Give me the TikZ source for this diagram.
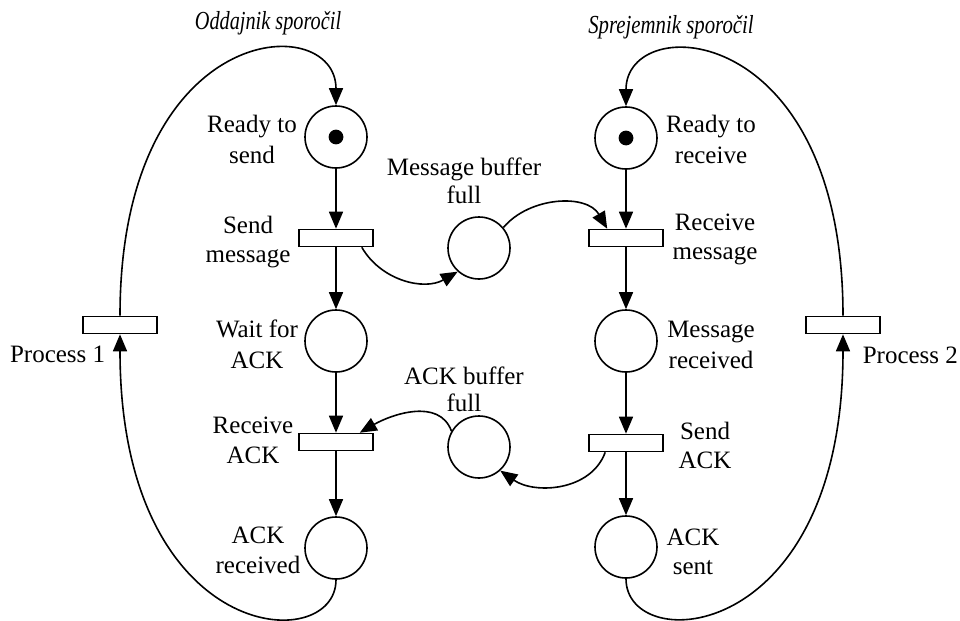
\documentclass[tikz,border=0pt]{standalone}
\usepackage{fontspec}
\usepackage{graphicx}
\setmainfont{Liberation Serif}
\usetikzlibrary{arrows.meta}
\begin{document}
\begin{tikzpicture}[x=0.5pt,y=-0.5pt,
  line width=0.8pt,
  place/.style={draw,circle,minimum size=31pt,inner sep=0pt},
  trans/.style={draw,rectangle,minimum width=37pt,minimum height=8.5pt,inner sep=0pt},
  token/.style={fill,circle,minimum size=7.4pt,inner sep=0pt},
  lbl/.style={anchor=base,inner sep=0pt,font=\fontsize{12.5}{15}\selectfont},
  ttl/.style={anchor=base,inner sep=0pt,font=\fontsize{13}{15}\selectfont\itshape},
  arc/.style={-{Triangle[length=8.5pt,width=7pt]}},
]
\useasboundingbox (0,0) rectangle (960,621);

% places
\node[place] (rts) at (336,137) {};
\node[token] (rtsdot) at (rts) {};
\node[place] (rtr) at (626,138) {};
\node[token] (rtrdot) at (rtr) {};
\node[place] (wfa) at (336,341) {};
\node[place] (mr)  at (626,341) {};
\node[place] (ar)  at (336,548) {};
\node[place] (as)  at (626,547) {};
\node[place] (mbf) at (479,248) {};
\node[place] (abf) at (479,447) {};

% transitions
\node[trans] (sm) at (336,238) {};
\node[trans] (rm) at (626,238) {};
\node[trans] (ra) at (336,442) {};
\node[trans] (sa) at (626,443) {};
\node[trans] (p1) at (120,325) {};
\node[trans] (p2) at (843,325) {};

% sender column
\draw[arc] (rts) -- (sm);
\draw[arc] (sm) -- (wfa);
\draw[arc] (wfa) -- (ra);
\draw[arc] (ra) -- (ar);
% receiver column
\draw[arc] (rtr) -- (rm);
\draw[arc] (rm) -- (mr);
\draw[arc] (mr) -- (sa);
\draw[arc] (sa) -- (as);

% buffers
\draw[arc] ([xshift=-6pt]sm.south east) to[out=-60,in=210] (mbf.228);
\draw[arc] (mbf.40) to[out=50,in=120] ([xshift=9.5pt]rm.north west);
\draw[arc] ([xshift=8.5pt]sa.south west) to[out=-110,in=-35] (abf.-48);
\draw[arc] (abf.150) to[out=110,in=30] ([xshift=-7pt]ra.north east);

% process loops
\draw[arc] (ar.south) .. controls +(0,77) and +(0,311) .. (p1.south);
\draw[arc] (p1.north) .. controls +(0,-296) and +(0,-96) .. (rts.north);
\draw[arc] (as.south) .. controls +(0,78) and +(0,311) .. (p2.south);
\draw[arc] (p2.north) .. controls +(0,-296) and +(0,-96) .. (rtr.north);

% titles
\node[ttl] (t1) at (268,30) {\scalebox{0.78}[1]{Oddajnik sporočil}};
\node[ttl] (t2) at (671,33) {\scalebox{0.80}[1]{Sprejemnik sporočil}};

% labels
\node[lbl] (l1a) at (252,133) {Ready to};
\node[lbl] (l1b) at (252,163) {send};
\node[lbl] (l2a) at (711,133) {Ready to};
\node[lbl] (l2b) at (711,163) {receive};
\node[lbl] (l3a) at (248,233) {Send};
\node[lbl] (l3b) at (248,262) {message};
\node[lbl] (l4a) at (715,230) {Receive};
\node[lbl] (l4b) at (715,259) {message};
\node[lbl] (l5a) at (464,175) {Message buffer};
\node[lbl] (l5b) at (464,203) {full};
\node[lbl] (l6a) at (257,337) {Wait for};
\node[lbl] (l6b) at (257,368) {ACK};
\node[lbl] (l7a) at (711,337) {Message};
\node[lbl] (l7b) at (711,368) {received};
\node[lbl] (l8a) at (464,384) {ACK buffer};
\node[lbl] (l8b) at (464,411) {full};
\node[lbl] (l9a) at (253,433) {Receive};
\node[lbl] (l9b) at (253,463) {ACK};
\node[lbl] (l10a) at (705,439) {Send};
\node[lbl] (l10b) at (705,468) {ACK};
\node[lbl] (l11a) at (258,543) {ACK};
\node[lbl] (l11b) at (258,573) {received};
\node[lbl] (l12a) at (693,545) {ACK};
\node[lbl] (l12b) at (693,574) {sent};
\node[lbl,anchor=base east] (lp1) at (106,362) {Process 1};
\node[lbl,anchor=base west] (lp2) at (862,363) {Process 2};
\end{tikzpicture}
\end{document}
